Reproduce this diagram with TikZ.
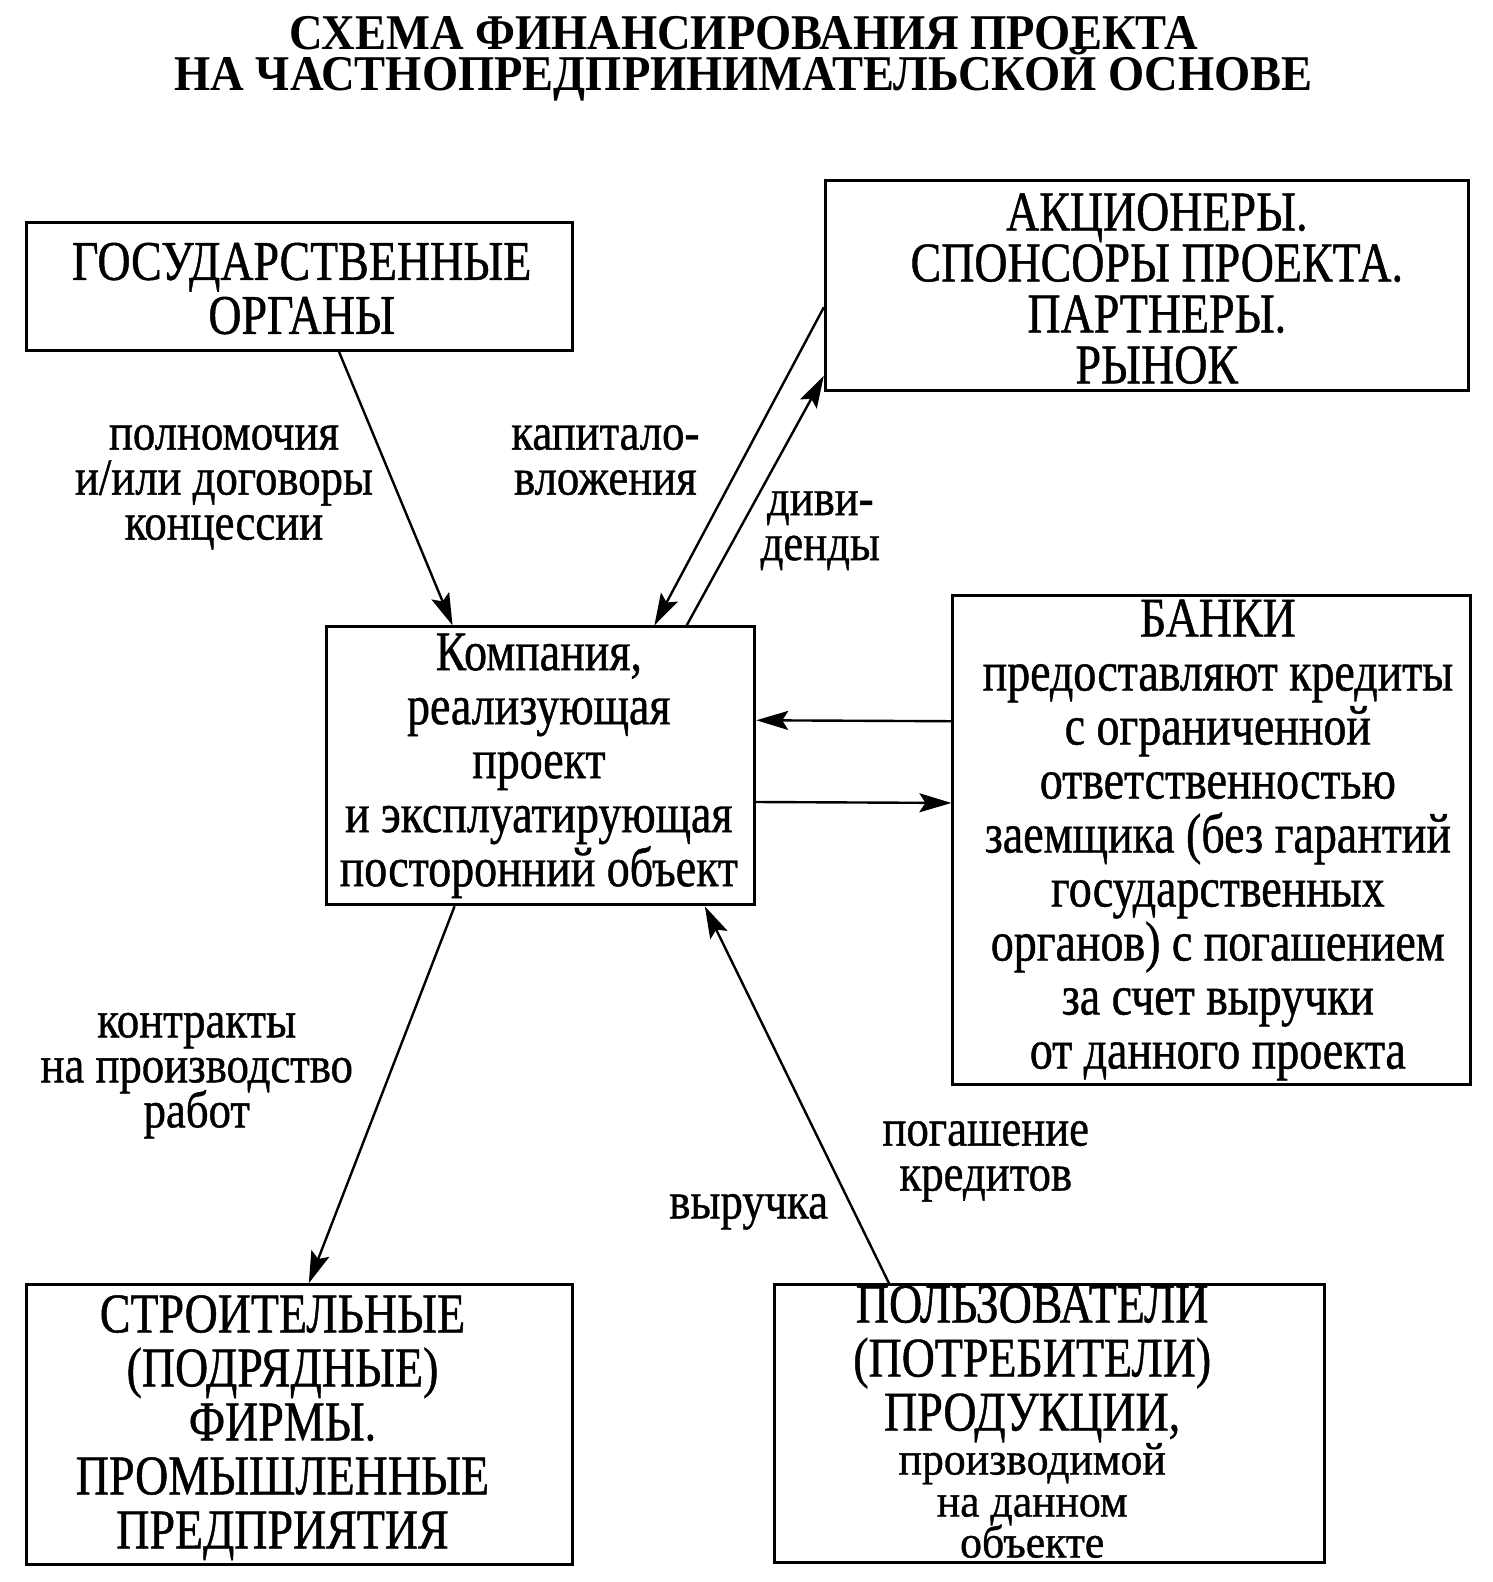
\documentclass[tikz,border=0pt]{standalone}
\usepackage{fontspec}
\setmainfont{Liberation Serif}
\newfontfamily\cnd[FakeStretch=0.82,FakeBold=0.8]{Liberation Serif}
\newfontfamily\lbf[FakeStretch=0.86,FakeBold=0.8]{Liberation Serif}
\newfontfamily\smf[FakeStretch=0.95,FakeBold=0.8]{Liberation Serif}
\newfontfamily\ttl[FakeStretch=0.93]{Liberation Serif}
\usetikzlibrary{arrows.meta,calc}
\begin{document}
\begin{tikzpicture}[x=1.009pt,y=-1.009pt,
  box/.style={draw,line width=2.8pt,inner sep=0pt},
  btext/.style={inner sep=0pt,align=center,font={\cnd\fontsize{56}{54}\selectfont\lineskiplimit=-100pt}},
  lbl/.style={inner sep=0pt,align=center,font={\lbf\fontsize{52}{45}\selectfont\lineskiplimit=-100pt}},
  arr/.style={line width=2.4pt,-{Stealth[length=32pt,width=19pt,inset=6pt]}}]
\useasboundingbox (0,0) rectangle (1478.7,1567.9);

\node (title) at (737,58) [inner sep=0pt,align=center,font={\ttl\bfseries\fontsize{50}{41}\selectfont\lineskiplimit=-100pt}]
  {СХЕМА ФИНАНСИРОВАНИЯ ПРОЕКТА\\НА ЧАСТНОПРЕДПРИНИМАТЕЛЬСКОЙ ОСНОВЕ};

% boxes
\node (gov) at (297,284) [box,minimum width=546pt,minimum height=128pt] {};
\node (share) at (1136.5,283) [box,minimum width=643pt,minimum height=210pt] {};
\node (comp) at (536,759) [box,minimum width=428pt,minimum height=278pt] {};
\node (bank) at (1201,832.5) [box,minimum width=518pt,minimum height=489pt] {};
\node (constr) at (297,1412) [box,minimum width=546pt,minimum height=280pt] {};
\node (users) at (1040,1411) [box,minimum width=550pt,minimum height=278pt] {};

% box texts
\node (govt) at ($(gov.center)+(2,2)$) [btext] {ГОСУДАРСТВЕННЫЕ\\ОРГАНЫ};
\node (sharet) at ($(share.center)+(10,3)$) [btext,font={\cnd\fontsize{56}{51}\selectfont\lineskiplimit=-100pt}]
  {АКЦИОНЕРЫ.\\СПОНСОРЫ ПРОЕКТА.\\ПАРТНЕРЫ.\\РЫНОК};
\node (compt) at ($(comp.center)+(-2,0)$) [btext]
  {Компания,\\реализующая\\проект\\и эксплуатирующая\\посторонний объект};
\node (bankt) at ($(bank.center)+(6,0)$) [btext]
  {БАНКИ\\предоставляют кредиты\\с ограниченной\\ответственностью\\заемщика (без гарантий\\государственных\\органов) с погашением\\за счет выручки\\от данного проекта};
\node (constrt) at ($(constr.center)+(-17,3)$) [btext]
  {СТРОИТЕЛЬНЫЕ\\(ПОДРЯДНЫЕ)\\ФИРМЫ.\\ПРОМЫШЛЕННЫЕ\\ПРЕДПРИЯТИЯ};
\node (userst) at ($(users.center)+(-17,-2)$) [btext]
  {ПОЛЬЗОВАТЕЛИ\\(ПОТРЕБИТЕЛИ)\\ПРОДУКЦИИ,\\[-10pt]{\smf\fontsize{46}{43}\selectfont производимой}\\[-12pt]{\smf\fontsize{46}{43}\selectfont на данном}\\[-13pt]{\smf\fontsize{46}{43}\selectfont объекте}};

% connector labels
\node (lpol) at (222,483) [lbl] {полномочия\\и/или договоры\\концессии};
\node (lkap) at (600,456) [lbl] {капитало-\\вложения};
\node (ldiv) at (813,526) [lbl] {диви-\\денды};
\node (lkon) at (195,1066) [lbl] {контракты\\на производство\\работ};
\node (lvyr) at (742,1201) [lbl] {выручка};
\node (lpog) at (977,1151) [lbl] {погашение\\кредитов};

% connectors
\draw[arr] ($(gov.south west)+(311,0)$) -- ($(comp.north west)+(126,0)$);
\draw[arr] ($(share.north west)+(0,127)$) -- ($(comp.north west)+(326,0)$);
\draw[arr] ($(comp.north west)+(358,0)$) -- ($(share.north west)+(0,195)$);
\draw[arr] ($(bank.north west)+(0,126)$) -- ($(comp.north east)+(0,94)$);
\draw[arr] ($(comp.north east)+(0,175)$) -- ($(bank.north west)+(0,207)$);
\draw[arr] ($(comp.south west)+(128,0)$) -- ($(constr.north west)+(281,0)$);
\draw[arr] ($(users.north west)+(115,0)$) -- ($(comp.south west)+(376,0)$);
\end{tikzpicture}
\end{document}
